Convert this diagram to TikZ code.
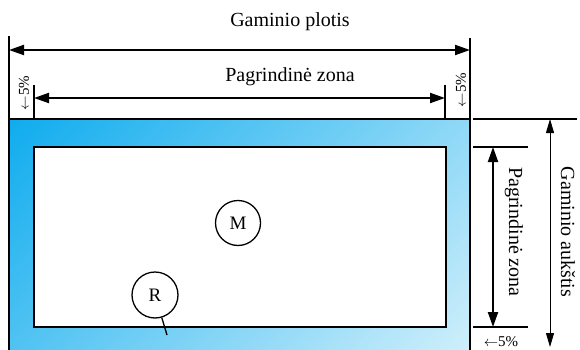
\documentclass[tikz,border=0pt]{standalone}
\usepackage{fontspec}
\setmainfont{Liberation Serif}
\usetikzlibrary{arrows.meta}
\definecolor{gradA}{HTML}{10ACEE}
\definecolor{gradB}{HTML}{D2F0FB}
\pgfdeclareverticalshading{diagsh}{100bp}{color(0bp)=(gradB); color(14.64bp)=(gradB); color(85.36bp)=(gradA); color(100bp)=(gradA)}
\tikzset{
  dimthick/.style={line width=2pt,{Triangle[length=15pt,width=10pt]}-{Triangle[length=15pt,width=10pt]}},
  dimthin/.style={line width=0.9pt,{Triangle[length=14pt,width=8pt]}-{Triangle[length=14pt,width=8pt]}},
  ext/.style={line width=1.4pt},
  frame/.style={line width=2pt},
  lbl/.style={font=\fontsize{20}{22}\selectfont, inner sep=0pt},
  small/.style={font=\fontsize{15}{16}\selectfont, inner sep=0pt},
  markcirc/.style={circle, draw, line width=1.3pt, minimum size=45pt, inner sep=0pt, font=\fontsize{19}{21}\selectfont}
}
\begin{document}
\begin{tikzpicture}[x=1pt,y=-1pt]
\clip (0,0) rectangle (580,350);
\fill[white] (0,0) rectangle (580,350);
% outer product
\coordinate (oTL) at (9,119);
\coordinate (oBR) at (470,362);
\shade[shading=diagsh, shading angle=45] (oTL) rectangle (oBR);
\draw[frame] (oTL) rectangle (oBR);
% inner zone
\coordinate (iTL) at (34,147);
\coordinate (iBR) at (446,327);
\fill[white] (iTL) rectangle (iBR);
\draw[frame] (iTL) rectangle (iBR);
% top width dimension
\coordinate (wL0) at (9,36);
\coordinate (wR0) at (470,38);
\coordinate (wR1) at (470,119);
\coordinate (wL) at (9,50);
\coordinate (wR) at (470,50);
\draw[ext] (wL0) -- (oTL);
\draw[ext] (wR0) -- (wR1);
\draw[dimthick] (wL) -- (wR);
\node[lbl] (tW) at (290,22) {Gaminio plotis};
% main zone width dimension
\coordinate (zL0) at (34,85);
\coordinate (zR0) at (445,85);
\coordinate (zL1) at (34,119);
\coordinate (zR1) at (445,119);
\coordinate (zL) at (34,98);
\coordinate (zR) at (445,98);
\draw[ext] (zL0) -- (zL1);
\draw[ext] (zR0) -- (zR1);
\draw[dimthick] (zL) -- (zR);
\node[lbl] (tZ) at (290,77) {Pagrindinė zona};
\node[small, rotate=90] (p1) at (24,93) {$\leftarrow$5\%};
\node[small, rotate=90] (p2) at (461,90) {$\leftarrow$5\%};
% right side height dimension
\coordinate (h0a) at (473,119);
\coordinate (h0b) at (577,119);
\coordinate (h1a) at (473,147);
\coordinate (h1b) at (528,147);
\coordinate (h2a) at (473,327);
\coordinate (h2b) at (528,327);
\draw[ext] (h0a) -- (h0b);
\draw[ext] (h1a) -- (h1b);
\draw[ext] (h2a) -- (h2b);
\coordinate (vz1) at (493,147);
\coordinate (vz2) at (493,327);
\draw[dimthick] (vz1) -- (vz2);
\coordinate (vh1) at (550,119);
\coordinate (vh2) at (550,347);
\draw[dimthin] (vh1) -- (vh2);
\node[lbl, rotate=-90] (tZv) at (514,232) {Pagrindinė zona};
\node[lbl, rotate=-90] (tH) at (568,232) {Gaminio aukštis};
\node[small] (p3) at (501,342) {$\leftarrow$5\%};
% markers
\node[markcirc] (M) at (238,223) {M};
\node[markcirc, minimum size=46pt] (R) at (155,295) {R};
\coordinate (Rt) at (167,335);
\draw[line width=1.3pt] (R) -- (Rt);
\end{tikzpicture}
\end{document}
